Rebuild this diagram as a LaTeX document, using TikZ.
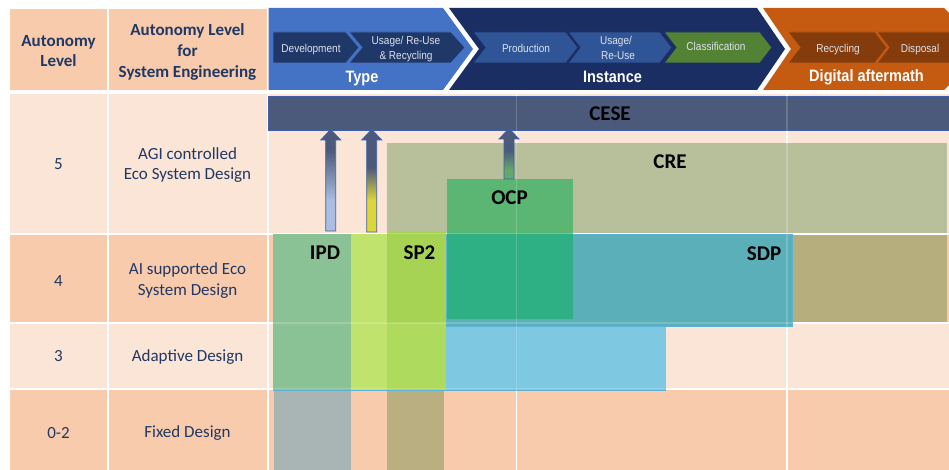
\documentclass[tikz,border=0pt]{standalone}
\usepackage{fontspec}
\usepackage{graphicx}
\setmainfont{Carlito}
\newfontfamily\arialf{Liberation Sans}
\newcommand\hsq[1]{\scalebox{0.88}[1]{#1}}
\definecolor{pkD}{HTML}{F8CBAD}
\definecolor{pkL}{HTML}{FBE5D6}
\definecolor{txt}{HTML}{203864}
\definecolor{typeblue}{HTML}{4472C4}
\definecolor{instnavy}{HTML}{1B2E64}
\definecolor{orng}{HTML}{C55A11}
\definecolor{devnavy}{HTML}{1F3868}
\definecolor{prodblue}{HTML}{2F5597}
\definecolor{clsgreen}{HTML}{548235}
\definecolor{brwn}{HTML}{843C0C}
\definecolor{hdrtxt}{HTML}{DCE2EC}
\definecolor{cese}{HTML}{4B5A7B}
\definecolor{ceseedge}{HTML}{3F60A6}
\definecolor{creL}{HTML}{B8BF9B}
\definecolor{creD}{HTML}{B7AE7E}
\definecolor{ocp}{HTML}{5CB673}
\definecolor{ocpsdp}{HTML}{2EB084}
\definecolor{sdp}{HTML}{5AAFB8}
\definecolor{lblue}{HTML}{7EC8E2}
\definecolor{lbedge}{HTML}{5DB3D3}
\definecolor{ipd}{HTML}{8BC295}
\definecolor{lime}{HTML}{BFE36D}
\definecolor{spA}{HTML}{A6D354}
\definecolor{spB}{HTML}{AEDB5E}
\definecolor{ipdgray}{HTML}{A9B5B5}
\definecolor{sptan}{HTML}{B9AF80}
\definecolor{ipdA}{HTML}{A9BEE2}
\definecolor{spY}{HTML}{DDD637}
\definecolor{ocpG}{HTML}{63A86D}
\pgfdeclareverticalshading{arrA}{100bp}{color(0bp)=(ipdA); color(40bp)=(ipdA); color(65bp)=(cese); color(100bp)=(cese)}
\pgfdeclareverticalshading{arrB}{100bp}{color(0bp)=(spY); color(40.5bp)=(spY); color(56.5bp)=(cese); color(100bp)=(cese)}
\pgfdeclareverticalshading{arrC}{100bp}{color(0bp)=(ocpG); color(34bp)=(ocpG); color(53.5bp)=(cese); color(100bp)=(cese)}
\begin{document}
\begin{tikzpicture}[x=1pt,y=-1pt,
  tbl/.style={font=\fontsize{17}{20}\selectfont, text=txt, anchor=base, inner sep=0pt},
  tblb/.style={tbl, font=\fontsize{17}{20}\selectfont\bfseries},
  lab/.style={font=\fontsize{21}{24}\selectfont\bfseries, text=black, anchor=base, inner sep=0pt},
  hsm/.style={font=\arialf\fontsize{11.4}{13}\selectfont, text=hdrtxt, anchor=base, inner sep=0pt},
  hbig/.style={font=\arialf\bfseries\fontsize{16.5}{19}\selectfont, text=white, anchor=base, inner sep=0pt},
  arrowbox/.style={draw=ceseedge, line width=0.8pt},
  gridover/.style={white, opacity=0.18, line width=1.5pt},
  inchev/.style={line width=0.8pt}
]
\useasboundingbox (0,0) rectangle (949,470);
\clip (0,0) rectangle (949,470);
\fill[white] (0,0) rectangle (949,470);
% table cells
\fill[pkD] (10,9) rectangle (107,90);
\fill[pkD] (108.5,9) rectangle (266.5,90);
\foreach \ya/\yb/\cc in {94/232.5/pkL,234.5/322/pkD,324/387.5/pkL,389.5/470/pkD}{
  \foreach \xa/\xb in {10/107,108.5/266.5,268.5/515.5,517/786,788/949}{
    \fill[\cc] (\xa,\ya) rectangle (\xb,\yb);
  }
}
% header chevrons
\fill[typeblue] (268.5,8) -- (443,8) -- (473,49) -- (443,90) -- (268.5,90) -- cycle;
\fill[instnavy] (449,8) -- (757,8) -- (785,49) -- (757,90) -- (449,90) -- (479,49) -- cycle;
\fill[orng] (763,8) -- (944,8) -- (985,49) -- (944,90) -- (763,90) -- (791,49) -- cycle;
% inner chevrons
\filldraw[fill=devnavy, draw=typeblue, inchev] (273,32) -- (346,32) -- (359,47.5) -- (346,63) -- (273,63) -- cycle;
\filldraw[fill=devnavy, draw=typeblue, inchev] (349,32) -- (451,32) -- (465,47.5) -- (451,63) -- (349,63) -- (362,47.5) -- cycle;
\filldraw[fill=prodblue, draw=instnavy, inchev] (473,32) -- (566,32) -- (578,47.5) -- (566,63) -- (473,63) -- (485,47.5) -- cycle;
\filldraw[fill=prodblue, draw=instnavy, inchev] (568,32) -- (660,32) -- (672,47.5) -- (660,63) -- (568,63) -- (580,47.5) -- cycle;
\filldraw[fill=clsgreen, draw=instnavy, inchev] (664,32) -- (760,32) -- (772,47.5) -- (760,63) -- (664,63) -- (676,47.5) -- cycle;
\filldraw[fill=brwn, draw=orng, inchev] (788,32) -- (875,32) -- (887,47.5) -- (875,63) -- (788,63) -- (800,47.5) -- cycle;
\filldraw[fill=brwn, draw=orng, inchev] (877,32) -- (960,32) -- (960,63) -- (877,63) -- (889,47.5) -- cycle;
% header texts
\node[hsm] (dev) at (311,52.3) {\hsq{Development}};
\node[hsm] (ur1) at (406,45) {\hsq{Usage/ Re-Use}};
\node[hsm] (ur2) at (406,59.3) {\hsq{\& Recycling}};
\node[hbig] (type) at (362,82.5) {\hsq{Type}};
\node[hsm] (prod) at (526,52.3) {\hsq{Production}};
\node[hsm] (us1) at (616,45) {\hsq{Usage/}};
\node[hsm] (us2) at (618,59.3) {\hsq{Re-Use}};
\node[hsm] (cls) at (716,50.7) {\hsq{Classification}};
\node[hbig] (inst) at (612.5,82.5) {\hsq{Instance}};
\node[hsm] (rec) at (838,52.3) {\hsq{Recycling}};
\node[hsm] (disp) at (920,52.3) {\hsq{Disposal}};
\node[hbig] (da) at (866.5,81.7) {\hsq{Digital aftermath}};
% coloured areas
\fill[creL] (387,143) rectangle (947,233);
\fill[creD] (792,234.5) rectangle (947,322);
\fill[ocp] (446.5,179) rectangle (572.7,234);
\filldraw[fill=sdp, draw=lbedge, line width=0.6pt] (446,234) rectangle (792,326.5);
\fill[ocpsdp] (446.5,234) rectangle (572.7,319);
\fill[lblue] (446,326.5) rectangle (666,390);
\fill[ipd] (273,233.5) rectangle (351,390);
\fill[lime] (351,233.5) rectangle (387,390);
\fill[spA] (387,232) rectangle (445.7,323);
\fill[spB] (387,323) rectangle (445.7,390);
\fill[ipdgray] (273.5,390) rectangle (351,470);
\fill[sptan] (387,390) rectangle (444,470);
\draw[lbedge, line width=0.8pt] (273,390.3) -- (666,390.3);
% CESE bar
\filldraw[fill=cese, draw=ceseedge, line width=0.8pt] (268.5,96) rectangle (949.5,130);
% grid showing through
\draw[gridover] (516.3,94) -- (516.3,470);
\draw[gridover] (787,94) -- (787,470);
\draw[gridover] (268,233.5) -- (949,233.5);
\draw[gridover] (268,323) -- (949,323);
\draw[gridover] (268,388.5) -- (949,388.5);
% block arrows
\shadedraw[shading=arrA, arrowbox] (330.7,129.5) -- (340.7,140) -- (335.7,140) -- (335.7,231) -- (325.7,231) -- (325.7,140) -- (320.7,140) -- cycle;
\shadedraw[shading=arrB, arrowbox] (371.7,129.5) -- (381.7,140) -- (376.7,140) -- (376.7,232) -- (366.7,232) -- (366.7,140) -- (361.7,140) -- cycle;
\shadedraw[shading=arrC, arrowbox] (509,128.5) -- (519,139) -- (514,139) -- (514,179) -- (504,179) -- (504,139) -- (499,139) -- cycle;
% labels
\node[lab] (cesel) at (610,121) {CESE};
\node[lab] (crel) at (670,168.3) {CRE};
\node[lab] (ocpl) at (509.5,205) {OCP};
\node[lab] (ipdl) at (325,259.3) {IPD};
\node[lab] (sp2l) at (419.5,259.3) {SP2};
\node[lab] (sdpl) at (764,260) {SDP};
% table texts
\node[tblb] (h1a) at (58.5,46.7) {Autonomy};
\node[tblb] (h1b) at (58.5,66.7) {Level};
\node[tblb] (h2a) at (187.5,36) {Autonomy Level};
\node[tblb] (h2b) at (187.5,56.7) {for};
\node[tblb] (h2c) at (187.5,77.3) {System Engineering};
\node[tbl] (n5) at (58.5,170) {5};
\node[tbl] (d5a) at (187.5,159.3) {AGI controlled};
\node[tbl] (d5b) at (187.5,180) {Eco System Design};
\node[tbl] (n4) at (58.5,286) {4};
\node[tbl] (d4a) at (187.5,274.7) {AI supported Eco};
\node[tbl] (d4b) at (187.5,295.3) {System Design};
\node[tbl] (n3) at (58.5,361.7) {3};
\node[tbl] (d3) at (187.5,361.7) {Adaptive Design};
\node[tbl] (n02) at (58.5,438) {0-2};
\node[tbl] (d02) at (187.5,437.5) {Fixed Design};
\end{tikzpicture}
\end{document}
